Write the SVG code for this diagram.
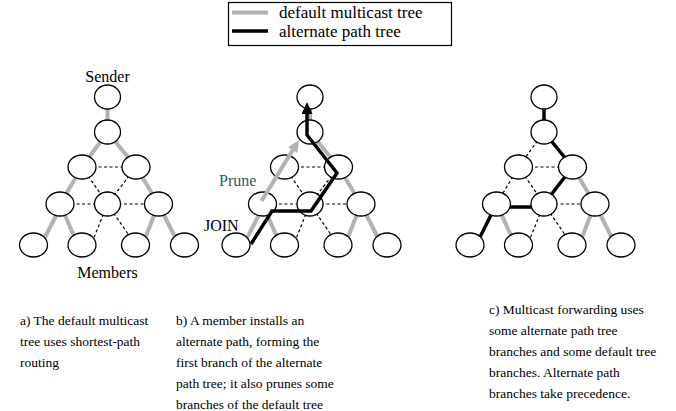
<svg xmlns="http://www.w3.org/2000/svg" width="676" height="411" viewBox="0 0 676 411">
<style>
.n{fill:#fff;stroke:#000;stroke-width:1.3}
.g{stroke:#b2b2b2;stroke-width:4;fill:none}
.k{stroke:#000;stroke-width:3.5;fill:none}
.d{stroke:#000;stroke-width:1.2;stroke-dasharray:3,2.5;fill:none}
.t{font-family:'Liberation Serif','DejaVu Serif',serif;fill:#000}
.lbl{font-size:16px}
.cap{font-size:13.5px}
.leg{font-size:17px}
</style>
<defs>
<marker id="ak" viewBox="0 0 12 11" markerUnits="userSpaceOnUse" markerWidth="12" markerHeight="11" refX="6" refY="5.5" orient="auto"><path d="M0,0 L12,5.5 L0,11 z" fill="#000"/></marker>
<marker id="ag" viewBox="0 0 12 11" markerUnits="userSpaceOnUse" markerWidth="12" markerHeight="11" refX="6" refY="5.5" orient="auto"><path d="M0,0 L12,5.5 L0,11 z" fill="#b2b2b2"/></marker>
</defs>

<g id="legend">
<rect x="228.5" y="2.5" width="223" height="43" fill="#fff" stroke="#000" stroke-width="1.2"/>
<line x1="232" y1="12.5" x2="268" y2="12.5" class="g"/>
<line x1="232" y1="31" x2="268" y2="31" class="k"/>
<text class="t leg" font-family="Liberation Serif, serif" x="279" y="17.5">default multicast tree</text>
<text class="t leg" font-family="Liberation Serif, serif" x="279" y="36.5">alternate path tree</text>
</g>

<g id="connectors">
<g class="g">
<line x1="107.5" y1="97" x2="107.5" y2="132"/>
<line x1="107.5" y1="132" x2="82" y2="167"/>
<line x1="107.5" y1="132" x2="136" y2="167"/>
<line x1="82" y1="167" x2="60" y2="204"/>
<line x1="136" y1="167" x2="158.5" y2="204"/>
<line x1="62" y1="204" x2="41" y2="245"/>
<line x1="60" y1="204" x2="78" y2="245"/>
<line x1="158.5" y1="204" x2="142.5" y2="245"/>
<line x1="158.5" y1="204" x2="179" y2="245"/>
</g>
<g class="d">
<line x1="82" y1="167" x2="136" y2="167"/>
<line x1="82" y1="167" x2="107.5" y2="204"/>
<line x1="136" y1="167" x2="107.5" y2="204"/>
<line x1="60" y1="204" x2="107.5" y2="204"/>
<line x1="107.5" y1="204" x2="158.5" y2="204"/>
<line x1="107.5" y1="204" x2="91" y2="245"/>
<line x1="107.5" y1="204" x2="135.5" y2="245"/>
</g>
<g class="g">
<line x1="310" y1="97" x2="310" y2="132"/>
<line x1="310" y1="132" x2="338.5" y2="167"/>
<line x1="338.5" y1="167" x2="361" y2="204"/>
<line x1="264.5" y1="204" x2="243.5" y2="245"/>
<line x1="262.5" y1="204" x2="280.5" y2="245"/>
<line x1="361" y1="204" x2="345" y2="245"/>
<line x1="361" y1="204" x2="381.5" y2="245"/>
</g>
<g class="d">
<line x1="284.5" y1="167" x2="338.5" y2="167"/>
<line x1="284.5" y1="167" x2="310" y2="204"/>
<line x1="338.5" y1="167" x2="310" y2="204"/>
<line x1="262.5" y1="204" x2="310" y2="204"/>
<line x1="310" y1="204" x2="361" y2="204"/>
<line x1="310" y1="204" x2="293.5" y2="245"/>
<line x1="310" y1="204" x2="338" y2="245"/>
</g>
<g class="k">
<line x1="544" y1="97" x2="544" y2="132"/>
<line x1="544" y1="132" x2="572.5" y2="167"/>
<line x1="572.5" y1="167" x2="544" y2="204"/>
<line x1="496.5" y1="207" x2="544" y2="207"/>
<line x1="496.5" y1="204" x2="476" y2="245"/>
</g>
<g class="g">
<line x1="572.5" y1="167" x2="595" y2="204"/>
<line x1="496.5" y1="204" x2="515.5" y2="245"/>
<line x1="595" y1="204" x2="579" y2="245"/>
<line x1="595" y1="204" x2="615.5" y2="245"/>
</g>
<g class="d">
<line x1="544" y1="132" x2="518.5" y2="167"/>
<line x1="518.5" y1="167" x2="572.5" y2="167"/>
<line x1="518.5" y1="167" x2="496.5" y2="204"/>
<line x1="518.5" y1="167" x2="544" y2="204"/>
<line x1="544" y1="204" x2="595" y2="204"/>
<line x1="544" y1="204" x2="527.5" y2="245"/>
<line x1="544" y1="204" x2="572" y2="245"/>
</g>
</g>

<g id="panel-a-nodes">
<g id="a-n0"><ellipse class="n" cx="107.5" cy="97" rx="13" ry="12"/></g>
<g id="a-n1"><ellipse class="n" cx="107.5" cy="132" rx="13" ry="12"/></g>
<g id="a-n2l"><ellipse class="n" cx="82" cy="167" rx="14" ry="12"/></g>
<g id="a-n2r"><ellipse class="n" cx="136" cy="167" rx="14" ry="12"/></g>
<g id="a-n3l"><ellipse class="n" cx="60" cy="204" rx="14" ry="12"/></g>
<g id="a-n3m"><ellipse class="n" cx="107.5" cy="204" rx="13" ry="12"/></g>
<g id="a-n3r"><ellipse class="n" cx="158.5" cy="204" rx="14" ry="12"/></g>
<g id="a-n4a"><ellipse class="n" cx="33.5" cy="245" rx="14" ry="12"/></g>
<g id="a-n4b"><ellipse class="n" cx="82" cy="245" rx="14" ry="12"/></g>
<g id="a-n4c"><ellipse class="n" cx="135.5" cy="245" rx="14" ry="12"/></g>
<g id="a-n4d"><ellipse class="n" cx="184.5" cy="245" rx="14" ry="12"/></g>
</g>

<g id="panel-b-nodes">
<g id="b-n0"><ellipse class="n" cx="310" cy="97" rx="13" ry="12"/></g>
<g id="b-n1"><ellipse class="n" cx="310" cy="132" rx="13" ry="12"/></g>
<g id="b-n2l"><ellipse class="n" cx="284.5" cy="167" rx="14" ry="12"/></g>
<g id="b-n2r"><ellipse class="n" cx="338.5" cy="167" rx="14" ry="12"/></g>
<g id="b-n3l"><ellipse class="n" cx="262.5" cy="204" rx="14" ry="12"/></g>
<g id="b-n3m"><ellipse class="n" cx="310" cy="204" rx="13" ry="12"/></g>
<g id="b-n3r"><ellipse class="n" cx="361" cy="204" rx="14" ry="12"/></g>
<g id="b-n4a"><ellipse class="n" cx="236" cy="245" rx="14" ry="12"/></g>
<g id="b-n4b"><ellipse class="n" cx="284.5" cy="245" rx="14" ry="12"/></g>
<g id="b-n4c"><ellipse class="n" cx="338" cy="245" rx="14" ry="12"/></g>
<g id="b-n4d"><ellipse class="n" cx="387" cy="245" rx="14" ry="12"/></g>
</g>

<g id="panel-c-nodes">
<g id="c-n0"><ellipse class="n" cx="544" cy="97" rx="13" ry="12"/></g>
<g id="c-n1"><ellipse class="n" cx="544" cy="132" rx="13" ry="12"/></g>
<g id="c-n2l"><ellipse class="n" cx="518.5" cy="167" rx="14" ry="12"/></g>
<g id="c-n2r"><ellipse class="n" cx="572.5" cy="167" rx="14" ry="12"/></g>
<g id="c-n3l"><ellipse class="n" cx="496.5" cy="204" rx="14" ry="12"/></g>
<g id="c-n3m"><ellipse class="n" cx="544" cy="204" rx="13" ry="12"/></g>
<g id="c-n3r"><ellipse class="n" cx="595" cy="204" rx="14" ry="12"/></g>
<g id="c-n4a"><ellipse class="n" cx="470" cy="245" rx="14" ry="12"/></g>
<g id="c-n4b"><ellipse class="n" cx="518.5" cy="245" rx="14" ry="12"/></g>
<g id="c-n4c"><ellipse class="n" cx="572" cy="245" rx="14" ry="12"/></g>
<g id="c-n4d"><ellipse class="n" cx="621" cy="245" rx="14" ry="12"/></g>
</g>

<g id="panel-b-paths">
<line class="g" x1="261.5" y1="201" x2="295.8" y2="145.1" marker-end="url(#ag)"/>
<polyline class="k" points="251,244 272,211 311,211 337,173 307,135 307,108" stroke-linejoin="miter" marker-end="url(#ak)"/>
</g>

<g id="labels" font-family="Liberation Serif, serif">
<text class="t lbl" x="107.5" y="82" text-anchor="middle">Sender</text>
<text class="t lbl" x="107.5" y="278" text-anchor="middle">Members</text>
<text class="t lbl" x="219" y="186" style="fill:#2e5e5e">Prune</text>
<text class="t lbl" x="204" y="231">JOIN</text>
</g>

<g id="captions" font-family="Liberation Serif, serif">
<text class="t cap" x="20" y="325">a) The default multicast</text>
<text class="t cap" x="20" y="346">tree uses shortest-path</text>
<text class="t cap" x="20" y="367">routing</text>
<text class="t cap" x="176" y="325">b) A member installs an</text>
<text class="t cap" x="176" y="346">alternate path, forming the</text>
<text class="t cap" x="176" y="367">first branch of the alternate</text>
<text class="t cap" x="176" y="388">path tree; it also prunes some</text>
<text class="t cap" x="176" y="409">branches of the default tree</text>
<text class="t cap" x="489" y="314">c) Multicast forwarding uses</text>
<text class="t cap" x="489" y="335">some alternate path tree</text>
<text class="t cap" x="489" y="356">branches and some default tree</text>
<text class="t cap" x="489" y="377">branches. Alternate path</text>
<text class="t cap" x="489" y="398">branches take precedence.</text>
</g>
</svg>
